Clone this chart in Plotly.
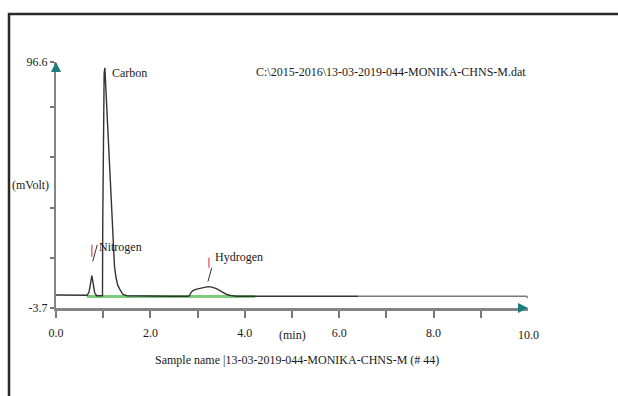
import plotly.graph_objects as go

# Detector signal (time in min, response in mVolt)
time_min = [0.00, 0.30, 0.60, 0.66, 0.70, 0.73, 0.76, 0.79, 0.82, 0.86, 0.92,
            0.985, 0.99, 1.00, 1.02, 1.035, 1.08, 1.13, 1.18, 1.214, 1.24, 1.271,
            1.31, 1.356, 1.42, 1.50, 1.70, 2.00, 2.40, 2.80, 2.83, 2.86, 2.90,
            2.96, 3.05, 3.15, 3.22, 3.30, 3.40, 3.48, 3.55, 3.62, 3.70, 3.83,
            4.20, 5.00, 6.40]
signal_mv = [1.6, 1.6, 1.5, 1.5, 2.8, 6.5, 9.5, 6.0, 2.5, 1.3, 1.2,
             1.3, 30.0, 70.0, 92.0, 94.2, 76.5, 55.0, 34.0, 20.0, 13.0, 8.7,
             5.5, 3.8, 1.8, 1.3, 1.2, 1.2, 1.1, 1.1, 1.3, 2.6, 3.4,
             3.9, 4.3, 4.8, 5.0, 4.8, 4.2, 3.3, 2.4, 1.8, 1.4, 1.1,
             1.1, 1.1, 1.1]

# Remainder of the run, drawn lighter
tail_time = [6.40, 9.97, 10.0]
tail_mv = [1.1, 1.1, 0.4]

# Integration baseline
baseline_time = [0.65, 4.22]
baseline_mv = [1.0, 1.0]

# Peak names and label anchors
peak_names = ["Carbon", "Nitrogen", "Hydrogen"]
label_time = [1.14, 0.87, 3.33]
label_mv = [92.1, 21.3, 17.1]

# Label leaders: red retention markers and black connectors
marker_time = [[0.76, 0.76], [3.24, 3.24]]
marker_mv = [[22.1, 17.2], [16.8, 12.7]]
leader_time = [[0.778, 0.875], [3.22, 3.30]]
leader_mv = [[15.3, 22.1], [7.1, 12.7]]

# Axis extents and ticks
x_range = [0.0, 10.0]
y_range = [-3.7, 96.6]
x_tick_vals = [0, 1, 2, 3, 4, 5, 6, 7, 8, 9]
x_tick_text = ["0.0", "", "2.0", "", "4.0", "", "6.0", "", "8.0", ""]
y_tick_vals = [-3.7, 16.6, 37.0, 57.8, 78.4, 96.6]
y_tick_text = ["-3.7", "", "", "", "", "96.6"]

FONT = "Liberation Serif"
AXIS_GREY = "#858585"
TEAL = "#17807c"
INK = "#1a1a1a"

fig = go.Figure()

fig.add_trace(go.Scatter(x=baseline_time, y=baseline_mv, mode="lines",
                         line=dict(color="#7ccb7c", width=3),
                         hoverinfo="skip"))
fig.add_trace(go.Scatter(x=time_min, y=signal_mv, mode="lines",
                         line=dict(color="#333333", width=1.4),
                         hoverinfo="skip"))
fig.add_trace(go.Scatter(x=tail_time, y=tail_mv, mode="lines",
                         line=dict(color="#7a7a7a", width=1.4),
                         hoverinfo="skip"))

for tx, ty in zip(marker_time, marker_mv):
    fig.add_trace(go.Scatter(x=tx, y=ty, mode="lines",
                             line=dict(color="#e8454f", width=1.2),
                             hoverinfo="skip"))
for tx, ty in zip(leader_time, leader_mv):
    fig.add_trace(go.Scatter(x=tx, y=ty, mode="lines",
                             line=dict(color="#333333", width=1),
                             hoverinfo="skip"))

annotations = []
for name, tx, ty in zip(peak_names, label_time, label_mv):
    annotations.append(dict(x=tx, y=ty, text=name, showarrow=False,
                            xanchor="left", yanchor="middle",
                            font=dict(family=FONT, size=12, color=INK)))

# File name header
annotations.append(dict(xref="paper", yref="paper", x=1.0, y=0.959,
                        text="C:\\2015-2016\\13-03-2019-044-MONIKA-CHNS-M.dat",
                        showarrow=False, xanchor="right", yanchor="middle",
                        font=dict(family=FONT, size=12, color=INK)))
# Axis titles
annotations.append(dict(xref="paper", yref="paper", x=0, y=0.5, xshift=-5,
                        text="(mVolt)", showarrow=False,
                        xanchor="right", yanchor="middle",
                        font=dict(family=FONT, size=12, color=INK)))
annotations.append(dict(x=5.0, xref="x", yref="paper", y=0, yshift=-27,
                        text="(min)", showarrow=False,
                        xanchor="center", yanchor="middle",
                        font=dict(family=FONT, size=12, color=INK)))
annotations.append(dict(x=10.0, xref="x", yref="paper", y=0, yshift=-27,
                        text="10.0", showarrow=False,
                        xanchor="center", yanchor="middle",
                        font=dict(family=FONT, size=12, color=INK)))
annotations.append(dict(x=5.1, xref="x", yref="paper", y=0, yshift=-52,
                        text="Sample name |13-03-2019-044-MONIKA-CHNS-M (# 44)",
                        showarrow=False, xanchor="center", yanchor="middle",
                        font=dict(family=FONT, size=12, color=INK)))
# Arrowheads at the ends of both axes
annotations.append(dict(x=0, y=y_range[1], xref="x", yref="y", ax=0, ay=10,
                        text="", showarrow=True, arrowhead=2, arrowsize=1,
                        arrowwidth=2, arrowcolor=TEAL, standoff=0))
annotations.append(dict(x=x_range[1], y=y_range[0], xref="x", yref="y",
                        ax=-10, ay=0, text="", showarrow=True, arrowhead=2,
                        arrowsize=1, arrowwidth=2, arrowcolor=TEAL, standoff=0))

# Outer frame: a rectangle whose right and bottom edges fall off the page
xl = (9 - 56) / 472
yt = (308 - 14) / 246
shapes = [
    dict(type="rect", xref="paper", yref="paper",
         x0=xl, x1=1.6, y0=-0.8, y1=yt,
         fillcolor="rgba(0,0,0,0)",
         line=dict(color="#2a2a2a", width=2.5)),
]

fig.update_layout(
    width=618, height=396,
    margin=dict(l=56, r=90, t=62, b=88),
    paper_bgcolor="white", plot_bgcolor="white",
    showlegend=False,
    font=dict(family=FONT, size=12, color=INK),
    annotations=annotations,
    shapes=shapes,
    xaxis=dict(range=x_range, showgrid=False, zeroline=False,
               showline=True, linecolor=AXIS_GREY, linewidth=3,
               tickmode="array", tickvals=x_tick_vals, ticktext=x_tick_text,
               ticks="outside", ticklen=7, tickwidth=1.5, tickcolor="#777777",
               ticklabelstandoff=5,
               tickfont=dict(family=FONT, size=12, color=INK)),
    yaxis=dict(range=y_range, showgrid=False, zeroline=False,
               showline=True, linecolor=AXIS_GREY, linewidth=2,
               tickmode="array", tickvals=y_tick_vals, ticktext=y_tick_text,
               ticks="outside", ticklen=4, tickwidth=1.5, tickcolor="#777777",
               tickfont=dict(family=FONT, size=12, color=INK)),
)

# Keep the page itself from scrolling around the fixed-size figure
page_js = ("document.documentElement.style.overflow='hidden';"
           "document.body.style.overflow='hidden';"
           "document.body.style.margin='0';")
fig.write_html("out.html", post_script=page_js,
               config={"displayModeBar": False})
